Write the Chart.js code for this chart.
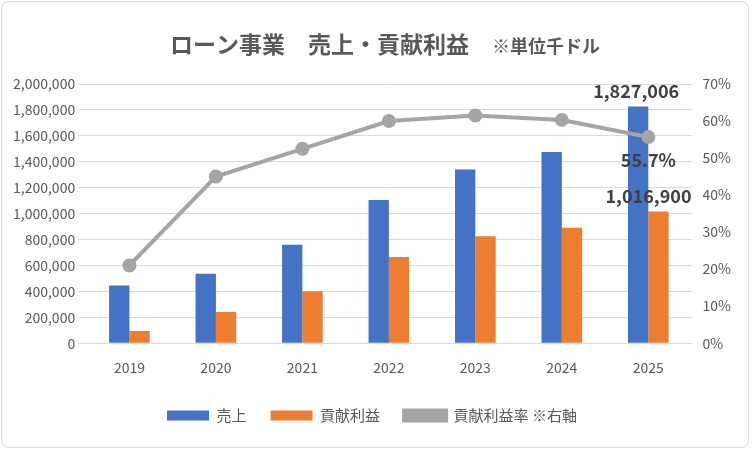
<!DOCTYPE html>
<html><head><meta charset="utf-8">
<script src="https://cdn.jsdelivr.net/npm/chart.js@4"></script>
<style>
html,body{margin:0;padding:0;background:#fff;}
#wrap{position:absolute;left:1px;top:1px;width:748px;height:447px;border:1px solid #d9d9d9;border-radius:8px;box-sizing:border-box;}
canvas{position:absolute;left:0;top:0;}
</style></head><body>
<div id="wrap"><canvas id="c" width="746" height="445"></canvas></div>
<script>
const years=['2019','2020','2021','2022','2023','2024','2025'];
const sales=[445000,535000,760000,1105000,1340000,1475000,1827006];
const profit=[95000,240000,400000,665000,825000,890000,1016900];
const rate=[21,45,52.5,60,61.5,60.3,55.7];
const font='"Noto Sans CJK JP","Noto Sans",sans-serif';
Chart.defaults.font.family=font;
const labels={
 id:'labels',
 afterDatasetsDraw(ch){
  const ctx=ch.ctx;ctx.save();
  ctx.font='bold 18px '+font;ctx.fillStyle='#404040';ctx.textAlign='center';ctx.textBaseline='bottom';
  const i=6;
  const b0=ch.getDatasetMeta(0).data[i], b1=ch.getDatasetMeta(1).data[i], p=ch.getDatasetMeta(2).data[i];
  ctx.fillText('1,827,006',b0.x-2,b0.y-6);
  ctx.fillText('1,016,900',b1.x-10,b1.y-6);
  ctx.fillText('55.7%',p.x,p.y+32);
  // title
  ctx.textAlign='left';ctx.textBaseline='alphabetic';ctx.fillStyle='#595959';
  ctx.font='bold 23px '+font;
  const t1='ローン事業　売上・貢献利益　';
  ctx.font='bold 23px '+font;const w1=ctx.measureText(t1).width;
  ctx.font='bold 18px '+font;const w2=ctx.measureText('※単位千ドル').width;
  let x=(ch.width-(w1+w2))/2+10;
  ctx.font='bold 23px '+font;ctx.fillText(t1,x,51);
  ctx.font='bold 18px '+font;ctx.fillText('※単位千ドル',x+w1,51);
  ctx.restore();
 }
};
new Chart(document.getElementById('c'),{
 data:{labels:years,datasets:[
  {type:'bar',label:'売上',data:sales,backgroundColor:'#4472c4',yAxisID:'y',order:2,barPercentage:1,categoryPercentage:0.47},
  {type:'bar',label:'貢献利益',data:profit,backgroundColor:'#ed7d31',yAxisID:'y',order:2,barPercentage:1,categoryPercentage:0.47},
  {type:'line',label:'貢献利益率 ※右軸',data:rate,borderColor:'#a5a5a5',backgroundColor:'#a5a5a5',borderWidth:4,pointRadius:5,pointBackgroundColor:'#a5a5a5',yAxisID:'y1',order:1}
 ]},
 options:{responsive:false,animation:false,
  layout:{padding:{left:8,right:14,top:82,bottom:14}},
  plugins:{
   title:{display:false},
   legend:{position:'bottom',labels:{color:'#595959',font:{size:15},boxWidth:42,boxHeight:10,padding:24,sort:(a,b)=>a.datasetIndex-b.datasetIndex}},
   tooltip:{enabled:false}
  },
  scales:{
   x:{grid:{display:false},border:{color:'#d9d9d9'},ticks:{color:'#595959',font:{size:14},padding:8}},
   y:{min:0,max:2000000,ticks:{stepSize:200000,color:'#595959',font:{size:14},callback:v=>v.toLocaleString('en-US')},grid:{color:'#d9d9d9'},border:{display:false}},
   y1:{position:'right',min:0,max:70,ticks:{stepSize:10,color:'#595959',font:{size:14},callback:v=>v+'%'},grid:{display:false},border:{display:false}}
  }
 },
 plugins:[labels]
});
</script></body></html>
